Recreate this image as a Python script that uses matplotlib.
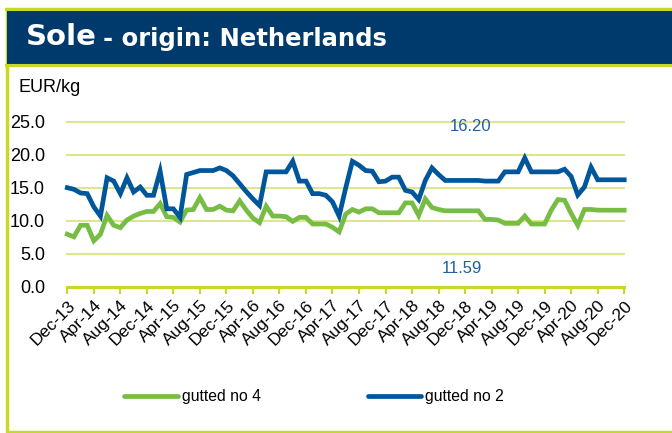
import matplotlib
matplotlib.use("Agg")
import matplotlib.pyplot as plt
from matplotlib.patches import Rectangle
from matplotlib.lines import Line2D
from matplotlib.transforms import ScaledTranslation

# ---- data (monthly, Dec-13 .. Dec-20) ----
tick_labels = ["Dec-13", "Apr-14", "Aug-14", "Dec-14", "Apr-15", "Aug-15", "Dec-15",
               "Apr-16", "Aug-16", "Dec-16", "Apr-17", "Aug-17", "Dec-17", "Apr-18",
               "Aug-18", "Dec-18", "Apr-19", "Aug-19", "Dec-19", "Apr-20", "Aug-20", "Dec-20"]

gutted_no4 = [7.95, 7.55, 9.3, 9.3, 6.95, 7.95, 10.8, 9.3, 8.95, 10.1,
              10.7, 11.1, 11.4, 11.4, 12.6, 10.6, 10.5, 9.8, 11.6, 11.7,
              13.5, 11.7, 11.7, 12.2, 11.6, 11.5, 13.0, 11.6, 10.4, 9.7,
              12.2, 10.7, 10.7, 10.6, 9.9, 10.5, 10.5, 9.5, 9.5, 9.5,
              9.0, 8.3, 11.0, 11.7, 11.3, 11.8, 11.8, 11.2, 11.2, 11.2,
              11.2, 12.7, 12.7, 10.8, 13.3, 12.0, 11.7, 11.5, 11.5, 11.5,
              11.5, 11.5, 11.5, 10.2, 10.2, 10.1, 9.6, 9.6, 9.6, 10.7,
              9.5, 9.5, 9.5, 11.6, 13.2, 13.1, 11.1, 9.3, 11.7, 11.7,
              11.6, 11.59, 11.59, 11.59, 11.59]

gutted_no2 = [15.0, 14.75, 14.2, 14.1, 12.1, 10.7, 16.5, 16.0, 14.1, 16.5,
              14.35, 15.1, 13.85, 13.85, 17.5, 11.8, 11.8, 10.5, 17.0, 17.3,
              17.6, 17.6, 17.6, 18.0, 17.6, 16.8, 15.6, 14.4, 13.3, 12.3,
              17.4, 17.4, 17.4, 17.4, 19.0, 16.0, 16.0, 14.1, 14.1, 13.85,
              12.85, 10.7, 15.0, 19.0, 18.4, 17.6, 17.5, 15.9, 16.0, 16.6,
              16.6, 14.6, 14.35, 13.2, 16.1, 18.0, 17.0, 16.1, 16.1, 16.1,
              16.1, 16.1, 16.1, 16.0, 16.0, 16.0, 17.4, 17.4, 17.4, 19.5,
              17.4, 17.4, 17.4, 17.4, 17.4, 17.8, 16.7, 13.9, 15.1, 18.1,
              16.2, 16.2, 16.2, 16.2, 16.2]

label_no2 = "16.20"
label_no4 = "11.59"

GREEN = "#77bc43"
BLUE = "#00569b"
NAVY = "#003a6c"
YELLOW = "#c8d827"
GRID = "#dde68c"

W, H = 672, 433
fig = plt.figure(figsize=(W / 100, H / 100), dpi=100)
plt.rcParams['font.family'] = ['Liberation Sans', 'DejaVu Sans']

def fx(px):
    return px / W

def fy(py):
    return 1 - py / H

# frame
fig.patches.append(Rectangle((fx(6.5), fy(432)), fx(700), fy(9) - fy(432), transform=fig.transFigure,
                             facecolor="white", edgecolor=YELLOW, linewidth=2.5, zorder=-3))
fig.patches.append(Rectangle((fx(7), fy(63.5)), fx(700), fy(10) - fy(63.5), transform=fig.transFigure,
                             facecolor=NAVY, edgecolor="none", zorder=-2))
fig.add_artist(Line2D([fx(6), fx(672)], [fy(64.5), fy(64.5)], transform=fig.transFigure,
                      color=YELLOW, lw=2.2, zorder=-1))
fig.add_artist(Line2D([fx(6), fx(672)], [fy(8.5), fy(8.5)], transform=fig.transFigure,
                      color=YELLOW, lw=2.2, zorder=-1))

fig.text(fx(26), fy(37), "Sole", color="white", fontsize=21, fontweight="bold",
         family="DejaVu Sans", va="center", ha="left")
fig.text(fx(103), fy(39), "- origin: Netherlands", color="white", fontsize=17.5,
         fontweight="bold", family="DejaVu Sans", va="center", ha="left")
fig.text(fx(18), fy(88), "EUR/kg", fontsize=13, va="center", ha="left", color="black")

ax = fig.add_axes([fx(67.3), fy(286.7), fx(624.2) - fx(67.3), fy(121.7) - fy(286.7)])
ax.set_zorder(5)
ax.patch.set_visible(False)
months = list(range(len(gutted_no4)))
ax.plot(months, gutted_no4, color=GREEN, lw=3.4, solid_joinstyle="miter", clip_on=False, zorder=3)
ax.plot(months, gutted_no2, color=BLUE, lw=3.4, solid_joinstyle="miter", clip_on=False, zorder=4)

ax.set_xlim(0, 84)
ax.set_ylim(0, 25)
ax.set_yticks([0, 5, 10, 15, 20, 25])
ax.set_yticklabels([f"{v:.1f}" for v in [0, 5, 10, 15, 20, 25]], fontsize=13)
ax.set_xticks(list(range(0, 85, 4)))
ax.set_xticklabels(tick_labels, rotation=45, ha="right", va="top", fontsize=12.5,
                   rotation_mode="anchor")
off = ScaledTranslation(4 / 100, 0, fig.dpi_scale_trans)
for lbl in ax.get_xticklabels():
    lbl.set_transform(lbl.get_transform() + off)
for s in ["top", "right", "left"]:
    ax.spines[s].set_visible(False)
ax.spines["bottom"].set_color(YELLOW)
ax.spines["bottom"].set_linewidth(2.2)
ax.tick_params(axis="y", length=0, pad=16)
ax.tick_params(axis="x", length=5, width=1.5, color=YELLOW, pad=3)
ax.yaxis.grid(True, color=GRID, lw=1.5)
ax.set_axisbelow(True)
for gl in ax.yaxis.get_gridlines():
    gl.set_clip_on(False)

ax.text(60.8, 24.3, label_no2, color="#1f5f9f", fontsize=12, ha="center", va="center")
ax.text(59.6, 2.8, label_no4, color="#1f5f9f", fontsize=12, ha="center", va="center")

# legend
fig.add_artist(Line2D([fx(124), fx(178)], [fy(396), fy(396)], transform=fig.transFigure,
                      color=GREEN, lw=3.4, solid_capstyle="round"))
fig.text(fx(182), fy(396), "gutted no 4", fontsize=11.3, va="center", ha="left")
fig.add_artist(Line2D([fx(368), fx(421)], [fy(396), fy(396)], transform=fig.transFigure,
                      color=BLUE, lw=3.4, solid_capstyle="round"))
fig.text(fx(425), fy(396), "gutted no 2", fontsize=11.3, va="center", ha="left")

fig.savefig("out.png", dpi=100)
